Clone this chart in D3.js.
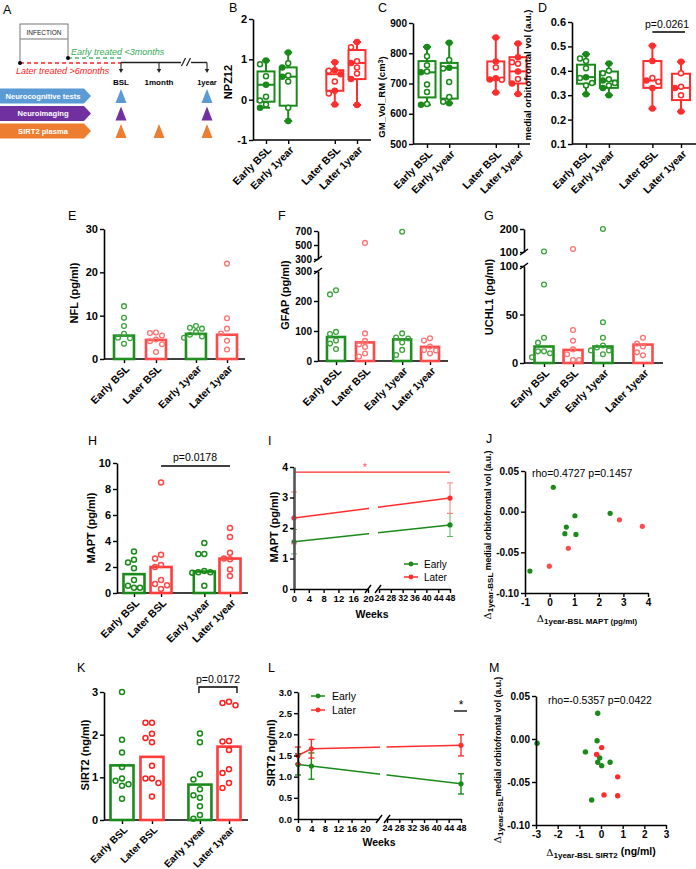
<!DOCTYPE html>
<html><head><meta charset="utf-8">
<script src="https://cdn.jsdelivr.net/npm/d3@7"></script>
<style>body{margin:0;background:#fff}svg{display:block}</style>
</head><body>
<svg id="c" width="696" height="869"></svg>
<script>
// ---------------- DATA ----------------
const boxGroups = ["Early BSL","Early 1year","Later BSL","Later 1year"];
const barGroups = ["Early BSL","Later BSL","Early 1year","Later 1year"];

// B: NPZ12 [min,q1,median,q3,max]
const npzBox = [[-0.2,-0.05,0.37,0.70,0.97],[-0.53,-0.15,0.57,0.80,1.17],[-0.12,0.22,0.63,0.73,0.93],[-0.13,0.51,0.91,1.23,1.43]];
const npzPts = [[0.97,0.88,0.58,0.37,0.07,-0.02,-0.12,-0.2],[1.17,0.9,0.8,0.6,0.57,0.45,-0.2,-0.53],[0.93,0.73,0.72,0.63,0.45,0.22,0.15,-0.12],[1.43,1.3,0.95,0.91,0.8,0.65,0.51,-0.13]];
const npzTicks = [-1,0,1,2];
// C: GM volume
const gmBox = [[630,654,737,774,821],[635,650,752,768,835],[670,713,717,773,852],[665,700,740,787,832]];
const gmPts = [[821,790,760,740,737,697,672,632,630],[835,778,752,750,705,655,640,635],[852,773,753,717,713,712,670],[832,787,770,765,740,715,700,665]];
const gmTicks = [500,600,700,800,900];
// D: medial orbitofrontal volume
const mofBox = [[0.304,0.347,0.374,0.425,0.468],[0.30,0.33,0.36,0.397,0.43],[0.245,0.33,0.36,0.44,0.503],[0.233,0.28,0.33,0.388,0.437]];
const mofPts = [[0.468,0.45,0.44,0.41,0.374,0.37,0.35,0.34,0.304],[0.43,0.40,0.39,0.365,0.36,0.35,0.34,0.33,0.30],[0.503,0.44,0.37,0.36,0.355,0.33,0.245],[0.437,0.39,0.335,0.33,0.30,0.233]];
const mofTicks = [0.1,0.2,0.3,0.4,0.5,0.6];
// E: NFL
const nflBars = [5.4,4.4,5.8,5.6];
const nflPts = [[12.2,9.5,7.6,5.8,4.9,4.8,3.5],[6.1,6.0,5.4,4.5,4.1,3.4,1.6],[7.6,7.2,7.0,6.2,5.6,5.2,4.9],[22,9.4,7.0,5.9,4.2,2.2]];
const nflTicks = [0,10,20,30];
// F: GFAP (broken axis)
const gfapBars = [80,62,72,47];
const gfapPts = [[236,222,97,90,68,58,40],[530,92,67,55,47,25,15],[690,92,78,75,62,37,20],[76,68,48,37,35,25]];
const gfapTicksLow = [0,100,200,300], gfapTicksHigh = [300,500,700];
// G: UCHL1 (broken axis)
const uchlBars = [17,13.5,17,19];
const uchlPts = [[102,81,26,21,12,12,10,6],[113,34,23,14,9,3,3],[200,42,26,18,16,13,13,9],[26,20,17,11,8]];
const uchlTicksLow = [0,50,100], uchlTicksHigh = [100,200];
// H: MAPT
const maptBars = [1.45,2.0,1.65,2.65];
const maptPts = [[3.2,2.55,2.35,1.9,1.0,0.55,0.4,0.4],[8.5,2.95,2.65,2.15,2.0,1.0,0.7,0.6,0.3],[3.85,3.0,3.0,1.7,1.6,1.6,1.55,0.55],[5.0,4.3,3.1,2.65,2.6,1.8,1.3]];
const maptTicks = [0,2,4,6,8,10];
// I: MAPT over time
const maptWeeks = [0,48];
const maptEarlyMean = [1.55,2.1], maptEarlyErr = [0.4,0.38];
const maptLaterMean = [2.33,2.98], maptLaterErr = [0.85,0.5];
const weekTicksLow = [0,4,8,12,16,20], weekTicksHigh = [24,28,32,36,40,44,48];
// J: delta MAPT vs delta mOFC
const jEarly = [[0.15,0.030],[1.03,-0.005],[0.68,-0.019],[0.62,-0.027],[1.07,-0.028],[2.46,-0.002],[-0.8,-0.073]];
const jLater = [[2.84,-0.010],[3.77,-0.018],[0.76,-0.045],[-0.01,-0.067]];
// K: SIRT2
const sirtBars = [1.28,1.48,0.83,1.72];
const sirtPts = [[3.0,1.88,1.58,1.24,0.97,0.92,0.84,0.80,0.50],[2.28,2.28,2.02,1.92,1.82,1.27,0.97,0.97,0.87,0.55],[2.03,1.82,1.07,0.95,0.72,0.58,0.52,0.32,0.12,0.03],[2.77,2.74,2.69,1.85,1.84,1.64,1.19,1.10,0.87,0.75]];
const sirtTicks = [0,1,2,3];
// L: SIRT2 over time
const sirtWeeks = [0,4,48];
const sirtEarlyMean = [1.29,1.25,0.83], sirtEarlyErr = [0.25,0.31,0.24];
const sirtLaterMean = [1.50,1.66,1.74], sirtLaterErr = [0.2,0.22,0.25];
// M: delta SIRT2 vs delta mOFC
const mEarly = [[-2.95,-0.005],[-0.15,0.030],[-0.18,-0.002],[-0.72,-0.015],[-0.06,-0.022],[-0.15,-0.027],[0.03,-0.031],[0.42,-0.027],[-0.43,-0.071]];
const mLater = [[0.03,-0.010],[-0.2,-0.018],[0.77,-0.044],[0.14,-0.065],[0.77,-0.066]];
// A: study design
const timepoints = ["BSL","1month","1year"];
const measures = ["Neurocognitive tests","Neuroimaging","SIRT2 plasma"];
const schedule = [[1,0,1],[1,0,1],[1,1,1]];

// ---------------- STYLE / HELPERS ----------------
const F = "Arial, 'Liberation Sans', Helvetica, sans-serif";
const GREEN = "#1a8a1a", RED = "#ff2e2e";
const svg = d3.select("#c");
svg.append("rect").attr("width",696).attr("height",869).attr("fill","#fff");

function styleAxis(a, fs, col, sw) {
  a.select(".domain").attr("stroke", col||"#000").attr("stroke-width", sw||1.6);
  a.selectAll(".tick line").attr("stroke","#000").attr("stroke-width",1.4);
  a.selectAll(".tick text").attr("font-family",F).attr("font-weight","bold").attr("font-size",fs||11).attr("fill","#000");
}
const plain = d => String(d);
function yAxis(y, x, ticks, fmt, fs, col, sw) {
  const a = svg.append("g").attr("transform",`translate(${x},0)`)
    .call(d3.axisLeft(y).tickValues(ticks).tickFormat(fmt||plain).tickSize(4).tickSizeOuter(0).tickPadding(2));
  styleAxis(a, fs, col, sw);
  return a;
}
function xAxis(x, y0, ticks, fmt, fs) {
  const a = svg.append("g").attr("transform",`translate(0,${y0})`)
    .call(d3.axisBottom(x).tickValues(ticks).tickFormat(fmt||plain).tickSize(4).tickSizeOuter(0).tickPadding(2));
  styleAxis(a, fs);
  return a;
}
function slotPos(slots, a, b) {
  const s = d3.scaleLinear().domain([slots[0], slots[slots.length-1]]).range([a,b]);
  return i => s(slots[i]);
}
function catAxis(groups, pos, y0, xStart, xEnd, fs) {
  const sc = d3.scaleOrdinal(groups, groups.map((g,i)=>pos(i)));
  const a = svg.append("g").attr("transform",`translate(0,${y0})`)
    .call(d3.axisBottom(sc).tickSize(4).tickSizeOuter(0));
  a.select(".domain").remove();
  a.append("line").attr("x1",xStart).attr("x2",xEnd).attr("stroke","#000").attr("stroke-width",1.6);
  styleAxis(a, fs||10.5);
  a.selectAll(".tick text").attr("y",0).attr("dy","0.35em")
    .attr("transform","translate(3,8) rotate(-45)").attr("text-anchor","end");
  return sc;
}
function yLabel(txt, x, y, fs) {
  return svg.append("text").attr("transform",`translate(${x},${y}) rotate(-90)`).attr("dy","0.35em")
    .attr("text-anchor","middle").attr("font-family",F).attr("font-weight","bold").attr("font-size",fs||11).text(txt);
}
function letter(t, x, y) {
  svg.append("text").attr("x",x).attr("y",y).attr("font-family",F).attr("font-size",12.5).text(t);
}
function swarm(vals, yf, sp) {
  const placed = [];
  return vals.map(v => {
    const yy = yf(v);
    const cands = [0]; for (let k=1;k<8;k++) cands.push(-k*sp, k*sp);
    const dx = cands.find(c => placed.every(p => Math.hypot(p.dx-c, p.y-yy) >= sp));
    placed.push({y:yy, dx});
    return dx;
  });
}
function boxPanel(o) {
  const sc = catAxis(o.groups, o.pos, o.axisY, o.axisX, o.axisEnd);
  yAxis(o.y, o.axisX, o.ticks, o.fmt, o.fs||11);
  o.groups.forEach((g,i) => {
    const c = o.colors[i], cx = sc(g), y = o.y;
    const [mn,q1,md,q3,mx] = o.stats[i];
    const G = svg.append("g").attr("stroke",c).attr("stroke-width",2).attr("fill","none");
    G.append("line").attr("x1",cx).attr("x2",cx).attr("y1",y(mx)).attr("y2",y(q3));
    G.append("line").attr("x1",cx).attr("x2",cx).attr("y1",y(q1)).attr("y2",y(mn));
    [mn,mx].forEach(v => G.append("line").attr("x1",cx-4).attr("x2",cx+4).attr("y1",y(v)).attr("y2",y(v)));
    G.append("rect").attr("x",cx-o.bw/2).attr("y",y(q3)).attr("width",o.bw).attr("height",y(q1)-y(q3)).attr("fill","#fff");
    G.append("line").attr("x1",cx-o.bw/2).attr("x2",cx+o.bw/2).attr("y1",y(md)).attr("y2",y(md));
    const dx = swarm(o.pts[i], y, 6);
    svg.append("g").selectAll("circle").data(o.pts[i]).join("circle")
      .attr("cx",(d,j)=>cx+dx[j]).attr("cy",d=>y(d)).attr("r",2.5)
      .attr("fill",d => o.stats[i].some(s=>Math.abs(s-d)<1e-9) ? c : "#fff")
      .attr("stroke",c).attr("stroke-width",1.5);
  });
}
function barPanel(o) {
  const sc = catAxis(o.groups, o.pos, o.axisY, o.axisX, o.axisEnd, o.catFs);
  o.groups.forEach((g,i) => {
    const cx = sc(g), yv = o.yf(o.bars[i]);
    svg.append("rect").attr("x",cx-o.bw/2).attr("y",yv).attr("width",o.bw).attr("height",o.axisY-yv)
      .attr("fill","none").attr("stroke",o.barColors[i]).attr("stroke-width",2.6);
    const dx = swarm(o.pts[i], o.yf, o.sp||6);
    svg.append("g").selectAll("circle").data(o.pts[i]).join("circle")
      .attr("cx",(d,j)=>cx+dx[j]).attr("cy",d=>o.yf(d)).attr("r",o.r||2.4)
      .attr("fill","none").attr("stroke",o.ptColors[i]).attr("stroke-width",o.psw||1.3);
  });
}
function slash(x, y, h) {
  svg.append("line").attr("x1",x-3).attr("y1",y+h).attr("x2",x+3).attr("y2",y-h).attr("stroke","#000").attr("stroke-width",1.4);
}
function brokenY(lo, hi, x, tLo, tHi, fs) {
  yAxis(lo, x, tLo, plain, fs);
  yAxis(hi, x, tHi, plain, fs);
  const r1 = lo.range()[1], r0 = hi.range()[0];
  svg.append("line").attr("x1",x-4).attr("y1",r1+3).attr("x2",x+4).attr("y2",r1-3).attr("stroke","#000").attr("stroke-width",1.5);
  svg.append("line").attr("x1",x-4).attr("y1",r0+3).attr("x2",x+4).attr("y2",r0-3).attr("stroke","#000").attr("stroke-width",1.5);
}
function errMarkers(xs, means, errs, xf, y, col, ecol, sw) {
  const G = svg.append("g");
  xs.forEach((w,i) => {
    const cx = xf(w);
    G.append("line").attr("x1",cx).attr("x2",cx).attr("y1",y(means[i]+errs[i])).attr("y2",y(means[i]-errs[i])).attr("stroke",ecol).attr("stroke-width",sw);
    [means[i]+errs[i], means[i]-errs[i]].forEach(v => G.append("line").attr("x1",cx-3).attr("x2",cx+3).attr("y1",y(v)).attr("y2",y(v)).attr("stroke",ecol).attr("stroke-width",sw));
    G.append("circle").attr("cx",cx).attr("cy",y(means[i])).attr("r",2.6).attr("fill",col);
  });
}
function deltaText(sel, sub, rest, fs, fsSub, fsRest) {
  sel.append("tspan").attr("font-family","'DejaVu Serif', serif").attr("font-weight","normal").attr("font-size",fs).text("Δ");
  sel.append("tspan").attr("font-size",fsSub).attr("dy","0.3em").text(sub);
  sel.append("tspan").attr("font-size",fsRest).attr("dy","-0.3em").text(rest);
}

// ---------------- PANEL A ----------------
letter("A", 3, 14);
const tpX = d3.scaleOrdinal(timepoints, [121,159,207]);
const rowY = d3.scalePoint(measures, [96,131]);
const mColors = d3.scaleOrdinal(measures, ["#5b9bd5","#7030a0","#ed7d31"]);
svg.append("rect").attr("x",20).attr("y",24).attr("width",48).attr("height",15).attr("fill","#fff").attr("stroke","#777").attr("stroke-width",1);
svg.append("text").attr("x",44).attr("y",34.5).attr("text-anchor","middle").attr("font-family",F).attr("font-size",6.5).attr("fill","#222").text("INFECTION");
svg.append("line").attr("x1",20).attr("x2",20).attr("y1",39).attr("y2",63).attr("stroke","#aaa").attr("stroke-width",1.6);
svg.append("line").attr("x1",68).attr("x2",68).attr("y1",39).attr("y2",58).attr("stroke","#aaa").attr("stroke-width",1.6);
svg.append("line").attr("x1",68).attr("x2",tpX("BSL")).attr("y1",58).attr("y2",58).attr("stroke","#4cbb6c").attr("stroke-width",1.4).attr("stroke-dasharray","4,3");
svg.append("line").attr("x1",20).attr("x2",tpX("BSL")).attr("y1",63).attr("y2",63).attr("stroke","#ff2020").attr("stroke-width",1.4).attr("stroke-dasharray","4,3");
svg.append("circle").attr("cx",20).attr("cy",63).attr("r",2).attr("fill","#000");
svg.append("circle").attr("cx",68).attr("cy",58).attr("r",2).attr("fill","#000");
svg.append("text").attr("x",71).attr("y",55).attr("font-family",F).attr("font-style","italic").attr("font-size",9).attr("fill","#33aa55").text("Early treated <3months");
svg.append("text").attr("x",16).attr("y",74).attr("font-family",F).attr("font-style","italic").attr("font-size",9).attr("fill","#ff2020").text("Later treated >6months");
svg.append("line").attr("x1",tpX("BSL")).attr("x2",181).attr("y1",62.5).attr("y2",62.5).attr("stroke","#222").attr("stroke-width",1.4);
svg.append("line").attr("x1",191).attr("x2",tpX("1year")).attr("y1",62.5).attr("y2",62.5).attr("stroke","#222").attr("stroke-width",1.4);
[183.5,188.5].forEach(x => svg.append("line").attr("x1",x-2).attr("y1",66).attr("x2",x+2).attr("y2",58).attr("stroke","#222").attr("stroke-width",1.3));
timepoints.forEach(t => {
  const x = tpX(t);
  svg.append("line").attr("x1",x).attr("x2",x).attr("y1",62.5).attr("y2",70).attr("stroke","#222").attr("stroke-width",1.1);
  svg.append("path").attr("d",`M${x-2.2},69 L${x+2.2},69 L${x},73 Z`).attr("fill","#222");
  svg.append("text").attr("x",x).attr("y",85).attr("text-anchor","middle").attr("font-family",F).attr("font-weight","bold").attr("font-size",t==="1year"?7.5:8).text(t);
});
measures.forEach((m,r) => {
  const yc = rowY(m), c = mColors(m);
  svg.append("path").attr("d",`M0,${yc-7.5} L84,${yc-7.5} L91,${yc} L84,${yc+7.5} L0,${yc+7.5} Z`).attr("fill",c);
  svg.append("text").attr("x",43).attr("y",yc+2.8).attr("text-anchor","middle").attr("font-family",F).attr("font-weight","bold").attr("font-size",7.6).attr("fill","#fff").text(m);
  timepoints.forEach((t,k) => {
    if (!schedule[r][k]) return;
    const x = tpX(t);
    svg.append("path").attr("d",`M${x},${yc-7} L${x+5.5},${yc+7} L${x-5.5},${yc+7} Z`).attr("fill",c);
  });
});

// ---------------- PANEL B ----------------
letter("B", 229, 12);
const colsBox = [GREEN, GREEN, RED, RED];
boxPanel({groups:boxGroups, pos:slotPos([0,1,3.1,4.1],266,357), axisY:140, axisX:253, axisEnd:371,
  y:d3.scaleLinear([-1,2],[140,19]), ticks:npzTicks, stats:npzBox, pts:npzPts, colors:colsBox, bw:17});
yLabel("NPZ12", 228, 82, 11);

// ---------------- PANEL C ----------------
letter("C", 378, 12);
boxPanel({groups:boxGroups, pos:slotPos([0,1,3.1,4.1],427,518), axisY:144, axisX:413, axisEnd:530,
  y:d3.scaleLinear([500,900],[144,23]), ticks:gmTicks, stats:gmBox, pts:gmPts, colors:colsBox, bw:17, fs:10});
{
  const t = svg.append("text").attr("transform","translate(382,97) rotate(-90)").attr("dy","0.35em").attr("text-anchor","middle")
    .attr("font-family",F).attr("font-weight","bold").attr("font-size",9.5);
  t.append("tspan").text("GM_Vol_RM (cm");
  t.append("tspan").attr("dy","-0.4em").attr("font-size",7).text("3");
  t.append("tspan").attr("dy","0.4em").text(")");
}

// ---------------- PANEL D ----------------
letter("D", 538, 12);
const yD = d3.scaleLinear([0.1,0.6],[144,22]);
const posD = slotPos([0,1,2.9,4.15],586,681);
boxPanel({groups:boxGroups, pos:posD, axisY:144, axisX:572, axisEnd:696,
  y:yD, ticks:mofTicks, fmt:d=>d.toFixed(1), stats:mofBox, pts:mofPts, colors:colsBox, bw:18});
yLabel("medial orbitofrontal vol (a.u.)", 528, 75, 9.5);
svg.append("line").attr("x1",posD(2)).attr("x2",posD(3)+4).attr("y1",32).attr("y2",32).attr("stroke","#000").attr("stroke-width",1.3);
svg.append("text").attr("x",667).attr("y",28).attr("text-anchor","middle").attr("font-family",F).attr("font-size",10.5).text("p=0.0261");

// ---------------- PANEL E ----------------
letter("E", 68, 220);
const barCols1 = ["#1f8f1f","#ff4a4a","#1f8f1f","#ff4a4a"], ptCols1 = ["#3ba33b","#ff7272","#3ba33b","#ff7272"];
const yE = d3.scaleLinear([0,30],[359,229]);
barPanel({groups:barGroups, pos:slotPos([0,1,2.25,3.22],124,227), axisY:359, axisX:104, axisEnd:245,
  yf:yE, bars:nflBars, pts:nflPts, bw:20, barColors:barCols1, ptColors:ptCols1});
yAxis(yE, 104, nflTicks, plain, 11);
yLabel("NFL (pg/ml)", 74, 293, 11);

// ---------------- PANEL F ----------------
letter("F", 278, 220);
const yFlo = d3.scaleLinear([0,300],[361,271]), yFhi = d3.scaleLinear([300,700],[259,231]);
const yF = v => v <= 300 ? yFlo(v) : yFhi(v);
barPanel({groups:barGroups, pos:slotPos([0,1,2.28,3.24],336,430), axisY:361, axisX:318, axisEnd:448,
  yf:yF, bars:gfapBars, pts:gfapPts, bw:18, barColors:barCols1, ptColors:ptCols1});
brokenY(yFlo, yFhi, 318, gfapTicksLow, gfapTicksHigh, 10);
yLabel("GFAP (pg/ml)", 285, 295, 11);

// ---------------- PANEL G ----------------
letter("G", 484, 220);
const yGlo = d3.scaleLinear([0,100],[363,266]), yGhi = d3.scaleLinear([100,200],[252,229]);
const yG = v => v <= 100 ? yGlo(v) : yGhi(v);
barPanel({groups:barGroups, pos:slotPos([0,1,2.03,3.41],544,643), axisY:363, axisX:524, axisEnd:663,
  yf:yG, bars:uchlBars, pts:uchlPts, bw:19, barColors:barCols1, ptColors:ptCols1});
brokenY(yGlo, yGhi, 524, uchlTicksLow, uchlTicksHigh, 11);
yLabel("UCHL1 (pg/ml)", 489, 297, 11);

// ---------------- PANEL H ----------------
letter("H", 88, 445);
const barCols2 = [GREEN, "#ff3b3b", GREEN, "#ff3b3b"], ptCols2 = [GREEN, "#ff4a4a", GREEN, "#ff4a4a"];
const yH = d3.scaleLinear([0,10],[593,463]);
const posH = slotPos([0,1,2.6,3.55],134,230);
barPanel({groups:barGroups, pos:posH, axisY:593, axisX:117, axisEnd:248,
  yf:yH, bars:maptBars, pts:maptPts, bw:21, barColors:barCols2, ptColors:ptCols2, r:2.5, psw:1.5});
yAxis(yH, 117, maptTicks, plain, 11);
yLabel("MAPT (pg/ml)", 91, 528, 11);
svg.append("line").attr("x1",posH(1)).attr("x2",posH(3)).attr("y1",466).attr("y2",466).attr("stroke","#000").attr("stroke-width",1.3);
svg.append("text").attr("x",195).attr("y",461).attr("text-anchor","middle").attr("font-family",F).attr("font-size",10.5).text("p=0.0178");

// ---------------- PANEL I ----------------
letter("I", 268, 445);
const yI = d3.scaleLinear([0,4],[589,467]);
const xIL = d3.scaleLinear([0,20],[294,368]), xIR = d3.scaleLinear([24,48],[379,450]);
const xI = w => w <= 22 ? xIL(w) : xIR(w);
const lineGen = d3.line();
svg.append("path").attr("d",lineGen(maptWeeks.map((w,i)=>[xI(w),yI(maptEarlyMean[i])]))).attr("stroke",GREEN).attr("stroke-width",1.5).attr("fill","none");
svg.append("path").attr("d",lineGen(maptWeeks.map((w,i)=>[xI(w),yI(maptLaterMean[i])]))).attr("stroke",RED).attr("stroke-width",1.5).attr("fill","none");
svg.append("rect").attr("x",369).attr("y",475).attr("width",9).attr("height",110).attr("fill","#fff");
svg.append("line").attr("x1",xI(0)).attr("x2",xI(48)).attr("y1",yI(3.83)).attr("y2",yI(3.83)).attr("stroke",RED).attr("stroke-width",1.3);
svg.append("text").attr("x",365).attr("y",471).attr("text-anchor","middle").attr("font-family",F).attr("font-size",11).attr("fill","#ff5a5a").text("*");
errMarkers(maptWeeks, maptEarlyMean, maptEarlyErr, xI, yI, GREEN, "#5cb85c", 1);
errMarkers(maptWeeks, maptLaterMean, maptLaterErr, xI, yI, RED, "#ff7f7f", 1);
yAxis(yI, 294, [0,1,2,3,4], plain, 10.5, "#555", 2.6);
xAxis(xIL, 589, weekTicksLow, plain, 9.5);
xAxis(xIR, 589, weekTicksHigh, plain, 8.8);
slash(368, 589, 4); slash(378, 589, 4);
yLabel("MAPT (pg/ml)", 274, 527, 11);
svg.append("text").attr("x",372).attr("y",618).attr("text-anchor","middle").attr("font-family",F).attr("font-weight","bold").attr("font-size",10.5).text("Weeks");
[["Early",GREEN,564],["Later",RED,577]].forEach(([t,c,yy]) => {
  svg.append("line").attr("x1",404).attr("x2",418).attr("y1",yy).attr("y2",yy).attr("stroke",c).attr("stroke-width",1.5);
  svg.append("circle").attr("cx",411).attr("cy",yy).attr("r",2.4).attr("fill",c);
  svg.append("text").attr("x",424).attr("y",yy+3.5).attr("font-family",F).attr("font-size",10).text(t);
});

// ---------------- PANEL J ----------------
letter("J", 486, 443);
const xJ = d3.scaleLinear([-1,4],[525,648]), yJ = d3.scaleLinear([-0.10,0.05],[593,471]);
svg.append("g").selectAll("circle").data(jEarly).join("circle").attr("cx",d=>xJ(d[0])).attr("cy",d=>yJ(d[1])).attr("r",2.6).attr("fill",GREEN);
svg.append("g").selectAll("circle").data(jLater).join("circle").attr("cx",d=>xJ(d[0])).attr("cy",d=>yJ(d[1])).attr("r",2.6).attr("fill","#ff4d4d");
yAxis(yJ, 525, [-0.10,-0.05,0,0.05], d=>d.toFixed(2), 10);
xAxis(xJ, 593, [-1,0,1,2,3,4], plain, 10);
svg.append("text").attr("x",532).attr("y",477).attr("font-family",F).attr("font-size",10.5).text("rho=0.4727 p=0.1457");
deltaText(svg.append("text").attr("x",587).attr("y",622).attr("text-anchor","middle").attr("font-family",F).attr("font-weight","bold"),
  "1year-BSL MAPT (pg/ml)", "", 10, 8, 8);
deltaText(svg.append("text").attr("transform","translate(491,535) rotate(-90)").attr("text-anchor","middle").attr("font-family",F).attr("font-weight","bold"),
  "1year-BSL", " medial orbitofrontal vol (a.u.)", 10, 8, 8.7);

// ---------------- PANEL K ----------------
letter("K", 77, 672);
const yK = d3.scaleLinear([0,3],[820,692]);
const posK = slotPos([0,1,2.6,3.57],122,229);
barPanel({groups:barGroups, pos:posK, axisY:820, axisX:104, axisEnd:248, catFs:10,
  yf:yK, bars:sirtBars, pts:sirtPts, bw:23, barColors:barCols2, ptColors:["#1a8a1a","#ff2020","#1a8a1a","#ff2020"], r:2.5, psw:1.5, sp:6.5});
yAxis(yK, 104, sirtTicks, plain, 11);
yLabel("SIRT2 (ng/ml)", 85, 755, 11);
svg.append("path").attr("d",`M${posK(2)-1},693 V687 H${posK(3)+8} V693`).attr("fill","none").attr("stroke","#000").attr("stroke-width",1.3);
svg.append("text").attr("x",218).attr("y",683).attr("text-anchor","middle").attr("font-family",F).attr("font-size",10.5).text("p=0.0172");

// ---------------- PANEL L ----------------
letter("L", 268, 672);
const yL = d3.scaleLinear([0,3],[819,692]);
const xLL = d3.scaleLinear([0,24.2],[298,379]), xLR = d3.scaleLinear([24,48],[387,461]);
const xL = w => w <= 22 ? xLL(w) : xLR(w);
svg.append("path").attr("d",lineGen(sirtWeeks.map((w,i)=>[xL(w),yL(sirtEarlyMean[i])]))).attr("stroke",GREEN).attr("stroke-width",1.5).attr("fill","none");
svg.append("path").attr("d",lineGen(sirtWeeks.map((w,i)=>[xL(w),yL(sirtLaterMean[i])]))).attr("stroke",RED).attr("stroke-width",1.5).attr("fill","none");
svg.append("rect").attr("x",380).attr("y",700).attr("width",6.5).attr("height",115).attr("fill","#fff");
errMarkers(sirtWeeks, sirtEarlyMean, sirtEarlyErr, xL, yL, GREEN, GREEN, 1.4);
errMarkers(sirtWeeks, sirtLaterMean, sirtLaterErr, xL, yL, RED, RED, 1.4);
yAxis(yL, 298, [0,0.5,1,1.5,2,2.5,3], d=>d.toFixed(1), 9.5);
xAxis(xLL, 819, weekTicksLow, plain, 9.5);
xAxis(xLR, 819, weekTicksHigh, plain, 9);
slash(379, 819, 4); slash(387, 819, 4);
yLabel("SIRT2 ng/ml)", 271, 753, 11);
svg.append("text").attr("x",379).attr("y",846).attr("text-anchor","middle").attr("font-family",F).attr("font-weight","bold").attr("font-size",10.5).text("Weeks");
[["Early",GREEN,696],["Later",RED,710]].forEach(([t,c,yy]) => {
  svg.append("line").attr("x1",311).attr("x2",325).attr("y1",yy).attr("y2",yy).attr("stroke",c).attr("stroke-width",1.5);
  svg.append("circle").attr("cx",318).attr("cy",yy).attr("r",2.4).attr("fill",c);
  svg.append("text").attr("x",332).attr("y",yy+3.8).attr("font-family",F).attr("font-size",10.5).text(t);
});
svg.append("line").attr("x1",454).attr("x2",467).attr("y1",711).attr("y2",711).attr("stroke","#000").attr("stroke-width",1.3);
svg.append("text").attr("x",461).attr("y",709).attr("text-anchor","middle").attr("font-family",F).attr("font-size",12).text("*");

// ---------------- PANEL M ----------------
letter("M", 489, 672);
const xM = d3.scaleLinear([-3,3],[536,666]), yM = d3.scaleLinear([-0.10,0.05],[825,696]);
svg.append("g").selectAll("circle").data(mEarly).join("circle").attr("cx",d=>xM(d[0])).attr("cy",d=>yM(d[1])).attr("r",2.7).attr("fill",GREEN);
svg.append("g").selectAll("circle").data(mLater).join("circle").attr("cx",d=>xM(d[0])).attr("cy",d=>yM(d[1])).attr("r",2.7).attr("fill","#ff2a2a");
yAxis(yM, 536, [-0.10,-0.05,0,0.05], d=>d.toFixed(2), 10);
xAxis(xM, 825, [-3,-2,-1,0,1,2,3], plain, 10);
svg.append("text").attr("x",548).attr("y",704).attr("font-family",F).attr("font-size",10.5).text("rho=-0.5357 p=0.0422");
deltaText(svg.append("text").attr("x",601).attr("y",856).attr("text-anchor","middle").attr("font-family",F).attr("font-weight","bold"),
  "1year-BSL SIRT2", " (ng/ml)", 10, 8, 10.5);
deltaText(svg.append("text").attr("transform","translate(501,760) rotate(-90)").attr("text-anchor","middle").attr("font-family",F).attr("font-weight","bold"),
  "1year-BSL", "medial orbitofrontal vol (a.u.)", 10, 8, 8.7);
</script>
</body></html>
